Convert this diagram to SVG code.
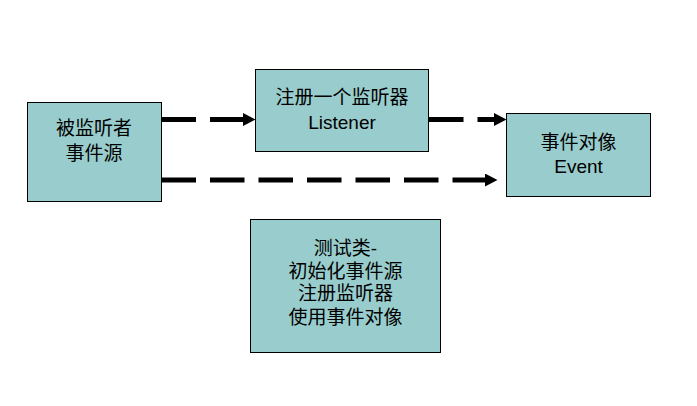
<svg xmlns="http://www.w3.org/2000/svg" width="697" height="406" viewBox="0 0 697 406">
<style>
.box{fill:#99CCCC;stroke:#000;stroke-width:1}
.t{font-family:"Liberation Sans","Noto Sans CJK SC",sans-serif;font-size:19px;fill:#000;text-anchor:middle}
.c{stroke:#000;stroke-width:5;stroke-dasharray:34.5 14;fill:none}
</style>
<defs>
<marker id="ah" markerUnits="userSpaceOnUse" markerWidth="13" markerHeight="14" refX="0" refY="6.5" orient="auto">
<path d="M0,0 L12.5,6.5 L0,13 z" fill="#000"/>
</marker>
</defs>
<rect width="697" height="406" fill="#fff"/>
<g id="connectors">
<line class="c" x1="161.5" y1="119.5" x2="243" y2="119.5" marker-end="url(#ah)"/>
<line class="c" x1="429" y1="119.5" x2="494" y2="119.5" marker-end="url(#ah)"/>
<line class="c" x1="161.5" y1="180" x2="485" y2="180" marker-end="url(#ah)"/>
</g>
<g id="source">
<rect class="box" x="27.5" y="102.5" width="134" height="99"/>
<text class="t" x="94" y="135">被监听者</text>
<text class="t" x="94" y="160">事件源</text>
</g>
<g id="listener">
<rect class="box" x="255.5" y="69.5" width="173" height="82"/>
<text class="t" x="342" y="104">注册一个监听器</text>
<text class="t" x="342" y="129">Listener</text>
</g>
<g id="event">
<rect class="box" x="506.5" y="113.5" width="144" height="83"/>
<text class="t" x="578.5" y="149">事件对像</text>
<text class="t" x="578.5" y="173">Event</text>
</g>
<g id="test">
<rect class="box" x="250.5" y="219.5" width="190" height="133"/>
<text class="t" x="345.5" y="255">测试类-</text>
<text class="t" x="345.5" y="278">初始化事件源</text>
<text class="t" x="345.5" y="300">注册监听器</text>
<text class="t" x="345.5" y="324">使用事件对像</text>
</g>
</svg>
